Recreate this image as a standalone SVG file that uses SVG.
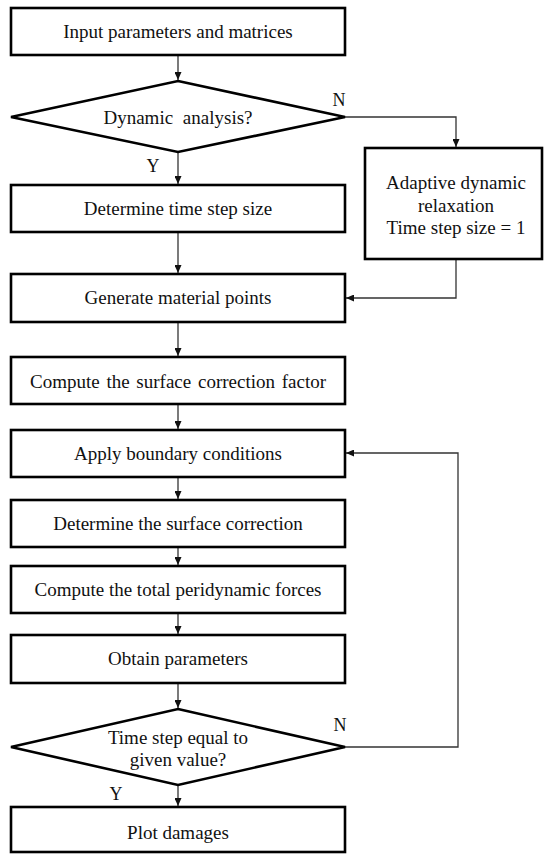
<svg xmlns="http://www.w3.org/2000/svg" width="544" height="854" viewBox="0 0 544 854">
<style>
.box{fill:#fff;stroke:#000;stroke-width:2.6}
.t{font-family:"Liberation Serif","Times New Roman",serif;font-size:19px;fill:#111;text-anchor:middle}
.lbl{font-family:"Liberation Serif","Times New Roman",serif;font-size:18px;fill:#111;text-anchor:middle}
.c{fill:none;stroke:#333;stroke-width:1.3}
</style>
<defs>
<marker id="ah" markerUnits="userSpaceOnUse" markerWidth="8" markerHeight="7" refX="8" refY="3.5" orient="auto">
<path d="M0,0 L8,3.5 L0,7 z" fill="#111"/>
</marker>
</defs>
<rect width="544" height="854" fill="#fff"/>
<g id="connectors">
<path class="c" d="M178,55 V80" marker-end="url(#ah)"/>
<path class="c" d="M178,152 V184" marker-end="url(#ah)"/>
<path class="c" d="M345,117 H456 V147" marker-end="url(#ah)"/>
<path class="c" d="M178,232 V273" marker-end="url(#ah)"/>
<path class="c" d="M456,259 V298 H346" marker-end="url(#ah)"/>
<path class="c" d="M178,322 V356" marker-end="url(#ah)"/>
<path class="c" d="M178,404 V429" marker-end="url(#ah)"/>
<path class="c" d="M178,477 V499" marker-end="url(#ah)"/>
<path class="c" d="M178,547 V565" marker-end="url(#ah)"/>
<path class="c" d="M178,613 V634" marker-end="url(#ah)"/>
<path class="c" d="M178,683 V708" marker-end="url(#ah)"/>
<path class="c" d="M345,747 H458 V453 H346" marker-end="url(#ah)"/>
<path class="c" d="M178,785 V806" marker-end="url(#ah)"/>
<text class="lbl" x="339" y="106">N</text>
<text class="lbl" x="153" y="172">Y</text>
<text class="lbl" x="340" y="731">N</text>
<text class="lbl" x="116" y="800">Y</text>
</g>
<g id="n1"><rect class="box" x="11" y="8" width="334" height="47"/><text class="t" x="178" y="38">Input parameters and matrices</text></g>
<g id="n2"><polygon class="box" points="178,81 345,117 178,152 11,117"/><text class="t" x="178" y="124" word-spacing="5">Dynamic analysis?</text></g>
<g id="n3"><rect class="box" x="365" y="148" width="177" height="111"/><text class="t" x="456" y="189">Adaptive dynamic</text><text class="t" x="456" y="212">relaxation</text><text class="t" x="456" y="234">Time step size = 1</text></g>
<g id="n4"><rect class="box" x="11" y="185" width="334" height="47"/><text class="t" x="178" y="215">Determine time step size</text></g>
<g id="n5"><rect class="box" x="11" y="274" width="334" height="48"/><text class="t" x="178" y="304">Generate material points</text></g>
<g id="n6"><rect class="box" x="11" y="357" width="334" height="47"/><text class="t" x="178" y="388" font-size="20" word-spacing="2">Compute the surface correction factor</text></g>
<g id="n7"><rect class="box" x="11" y="430" width="334" height="47"/><text class="t" x="178" y="460">Apply boundary conditions</text></g>
<g id="n8"><rect class="box" x="11" y="500" width="334" height="47"/><text class="t" x="178" y="530">Determine the surface correction</text></g>
<g id="n9"><rect class="box" x="11" y="566" width="334" height="47"/><text class="t" x="178" y="596">Compute the total peridynamic forces</text></g>
<g id="n10"><rect class="box" x="11" y="635" width="334" height="48"/><text class="t" x="178" y="665">Obtain parameters</text></g>
<g id="n11"><polygon class="box" points="178,709 345,747 178,785 11,747"/><text class="t" x="178" y="744">Time step equal to</text><text class="t" x="178" y="766">given value?</text></g>
<g id="n12"><rect class="box" x="11" y="807" width="334" height="45"/><text class="t" x="178" y="839">Plot damages</text></g>
</svg>
